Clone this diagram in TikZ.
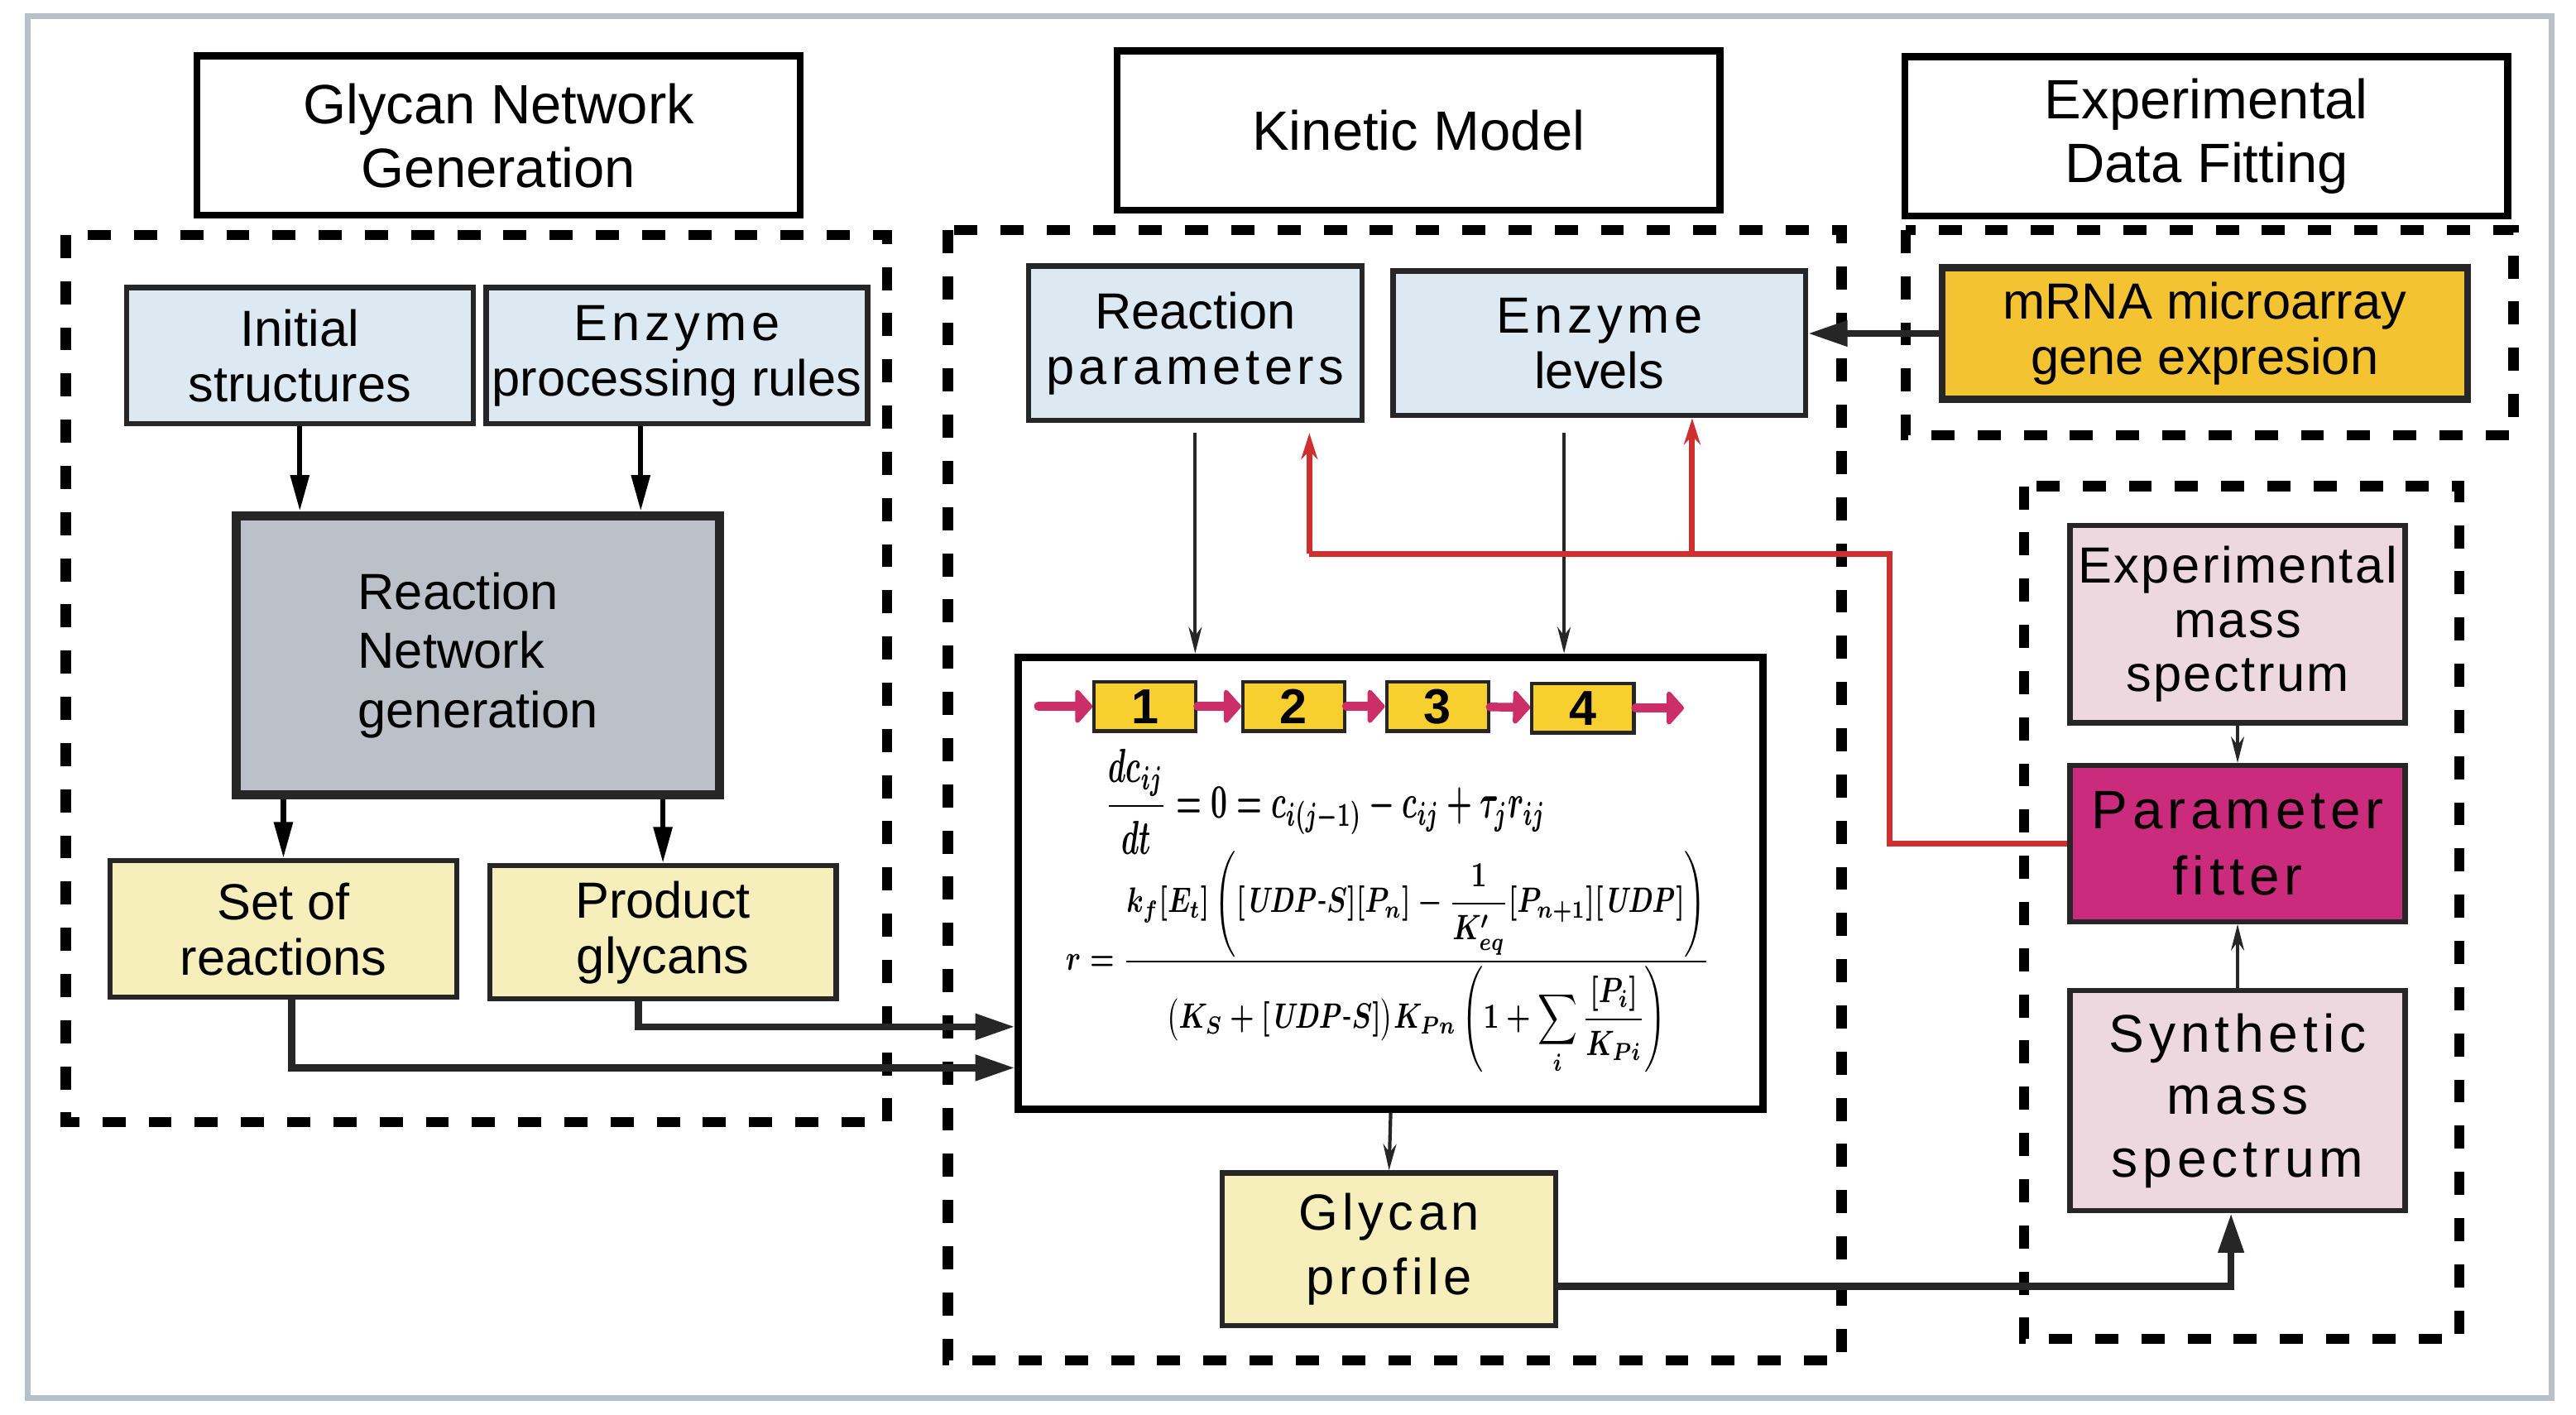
\documentclass[tikz,border=0pt]{standalone}
\usepackage{amsmath}
\usepackage{graphicx}
\usepackage[no-math]{fontspec}
\setmainfont{Liberation Sans}
\newfontfamily\widefont[LetterSpace=9]{Liberation Sans}
\newfontfamily\semiwidefont[LetterSpace=4]{Liberation Sans}
\usetikzlibrary{arrows.meta,positioning}

% equations of the kinetic model
\newsavebox{\balancebox}
\newsavebox{\ratebox}

\tikzset{
  titlebox/.style={draw, line width=1.2pt, minimum width=3.67cm, minimum height=0.97cm,
    align=center, font=\fontsize{9.6}{11}\selectfont},
  region/.style={line width=1.8pt, dash pattern=on 4pt off 4pt},
  block/.style={draw=black!85, line width=0.9pt, align=center, inner sep=1pt,
    font=\fontsize{8.8}{9.6}\selectfont},
  bluebox/.style={block, fill=paleblue},
  yellowbox/.style={block, fill=paleyellow},
  pinkbox/.style={block, fill=palepink, minimum width=2.04cm},
  chainbox/.style={draw=black!85, line width=0.6pt, fill=chaingold, minimum width=0.62cm,
    minimum height=0.30cm, inner sep=0pt, font=\bfseries\fontsize{8.5}{9}\selectfont},
  eqtext/.style={anchor=west, inner sep=0pt},
  arr/.style={-{Triangle[length=2.2mm,width=1.1mm]}, line width=0.9pt},
  thinarr/.style={-{Stealth[length=1.6mm,width=0.8mm]}, line width=0.6pt, black!85},
  bigarr/.style={-{Triangle[length=2.4mm,width=1.5mm]}, line width=1.2pt, black!85},
  redarr/.style={-{Stealth[length=1.6mm,width=1.0mm]}, line width=1pt, redline},
  chainarr/.style={-{Triangle[length=1.1mm,width=2.4mm,round]}, line width=1.5pt,
    line cap=round, chainpink}
}

\begin{document}
\sbox{\balancebox}{\resizebox*{2.68cm}{0.64cm}{\boldmath
  $\displaystyle \frac{dc_{ij}}{dt}=0=c_{i(j-1)}-c_{ij}+\tau_{j}r_{ij}$}}
\sbox{\ratebox}{\resizebox*{3.92cm}{1.36cm}{\boldmath
  $\displaystyle r=\frac{k_{f}[E_{t}]\left([\mathit{UDP}\text{-}S][P_{n}]-\dfrac{1}{K'_{eq}}[P_{n+1}][\mathit{UDP}]\right)}
  {\bigl(K_{S}+[\mathit{UDP}\text{-}S]\bigr)K_{Pn}\left(1+\displaystyle\sum\limits_{i}\frac{[P_{i}]}{K_{Pi}}\right)}$}}
\begin{tikzpicture}
  % Define colors
  \definecolor{paleblue}{HTML}{DCE8F2}
  \definecolor{netgray}{HTML}{BCC0C8}
  \definecolor{paleyellow}{HTML}{F6EFBB}
  \definecolor{gold}{HTML}{F4C332}
  \definecolor{chaingold}{HTML}{F7CF2E}
  \definecolor{palepink}{HTML}{EDD8E0}
  \definecolor{fittermagenta}{HTML}{CB2B7D}
  \definecolor{redline}{HTML}{CF2F2F}
  \definecolor{chainpink}{HTML}{CC2E6A}
  \definecolor{framegray}{HTML}{B8C0CA}

  \useasboundingbox (0,0) rectangle (15.68,8.61);
  \draw[framegray, line width=1pt, fill=white] (0.17,0.10) rectangle (15.53,8.51);

  % Titles
  \node[titlebox] (tgen) at (3.035,7.785) {Glycan Network\\Generation};
  \node[titlebox] (tkin) at (8.635,7.815) {Kinetic Model};
  \node[titlebox] (tfit) at (13.43,7.78) {Experimental\\Data Fitting};

  % Dashed regions
  \draw[region] (0.40,7.18) rectangle (5.40,1.78);
  \draw[region] (5.77,7.21) rectangle (11.21,0.33);
  \draw[region] (11.60,7.21) rectangle (15.30,5.96);
  \draw[region] (12.32,5.65) rectangle (14.97,0.46);

  % Network generation
  \node[bluebox, minimum width=2.11cm, minimum height=0.83cm] (init) at (1.825,6.445) {Initial\\structures};
  \node[bluebox, minimum width=2.30cm, minimum height=0.83cm] (rules) at (4.12,6.445) {{\widefont Enzyme}\\processing rules};
  \node[block, fill=netgray, line width=1.6pt, align=left, minimum width=2.94cm, minimum height=1.70cm,
    font=\fontsize{8.8}{10.2}\selectfont] (rng) at (2.91,4.62) {Reaction\\Network\\generation};
  \node[yellowbox, minimum width=2.11cm, minimum height=0.83cm] (setr) at (1.725,2.955) {Set of\\reactions};
  \node[yellowbox, minimum width=2.11cm, minimum height=0.81cm] (prod) at (4.035,2.935) {Product\\glycans};

  % Kinetic model
  \node[bluebox, minimum width=2.03cm, minimum height=0.94cm] (rpar) at (7.275,6.52) {Reaction\\{\widefont parameters}};
  \node[bluebox, minimum width=2.51cm, minimum height=0.88cm] (elev) at (9.735,6.52) {{\widefont Enzyme}\\levels};
  \node[draw, line width=1.3pt, fill=white, minimum width=4.53cm, minimum height=2.75cm] (eqbox) at (8.465,3.235) {};
  \node[yellowbox, minimum width=2.03cm, minimum height=0.93cm, font=\widefont\fontsize{8.8}{11.2}\selectfont] (gprof) at (8.455,1.005) {Glycan\\profile};

  \node[chainbox] (c1) at (6.97,4.31) {1};
  \node[chainbox] (c2) at (7.875,4.31) {2};
  \node[chainbox] (c3) at (8.75,4.31) {3};
  \node[chainbox] (c4) at (9.635,4.30) {4};
  \coordinate (cin) at (6.32,4.31);
  \coordinate (cout) at (10.25,4.30);
  \draw[chainarr] (cin) -- (c1);
  \draw[chainarr] (c1) -- (c2);
  \draw[chainarr] (c2) -- (c3);
  \draw[chainarr] (c3) -- (c4);
  \draw[chainarr] (c4) -- (cout);

  \node[eqtext] (balance) at (6.72,3.73) {\usebox{\balancebox}};
  \node[eqtext] (rate) at (6.48,2.75) {\usebox{\ratebox}};

  % Data fitting
  \node[block, fill=gold, line width=1.2pt, minimum width=3.20cm, minimum height=0.80cm] (mrna) at (13.42,6.58) {mRNA microarray\\gene expresion};
  \node[pinkbox, minimum height=1.20cm, inner sep=0pt, font=\semiwidefont\fontsize{8.8}{9.4}\selectfont] (expms) at (13.62,4.81) {Experimental\\mass\\spectrum};
  \node[block, fill=fittermagenta, minimum width=2.04cm, minimum height=0.95cm, font=\widefont\fontsize{9.4}{11.4}\selectfont] (fitter) at (13.62,3.475) {Parameter\\fitter};
  \node[pinkbox, minimum height=1.34cm, font=\widefont\fontsize{9.2}{10.8}\selectfont] (synms) at (13.62,1.91) {Synthetic\\mass\\spectrum};

  % Connectors
  \draw[arr] (init.south) -- (init.south |- rng.north);
  \coordinate (rs) at ([xshift=-2.2mm]rules.south);
  \draw[arr] (rs) -- (rs |- rng.north);
  \draw[arr] (rng.south -| setr.north) -- (setr.north);
  \draw[arr] (rng.south -| prod.north) -- (prod.north);
  \draw[bigarr] ([xshift=-1.5mm]prod.south) |- ([yshift=-8.75mm]eqbox.west);
  \draw[bigarr] ([xshift=0.5mm]setr.south) |- ([yshift=-11.25mm]eqbox.west);
  \draw[thinarr] ([yshift=-0.6mm]rpar.south) -- (rpar.south |- eqbox.north);
  \coordinate (es) at ([xshift=-2.15mm,yshift=-0.9mm]elev.south);
  \draw[thinarr] (es) -- (es |- eqbox.north);
  \draw[thinarr] (eqbox.south) -- (gprof.north);
  \draw[bigarr] ([yshift=-2.25mm]gprof.east) -| ([xshift=-0.4mm]synms.south);
  \draw[thinarr] (synms.north) -- (fitter.south);
  \draw[thinarr] (expms.south) -- (fitter.north);
  \draw[bigarr] (mrna.west) -- (mrna.west -| elev.east);

  % Feedback to parameters
  \coordinate (fb) at (11.50,5.24);
  \coordinate (rp) at ([xshift=6.95mm,yshift=-0.6mm]rpar.south);
  \coordinate (ep) at ([xshift=5.65mm]elev.south);
  \draw[redline, line width=1pt] (fitter.west) -| (fb) -- (rp |- fb);
  \draw[redarr] (rp |- fb) -- (rp);
  \draw[redarr] (ep |- fb) -- (ep);
\end{tikzpicture}
\end{document}
